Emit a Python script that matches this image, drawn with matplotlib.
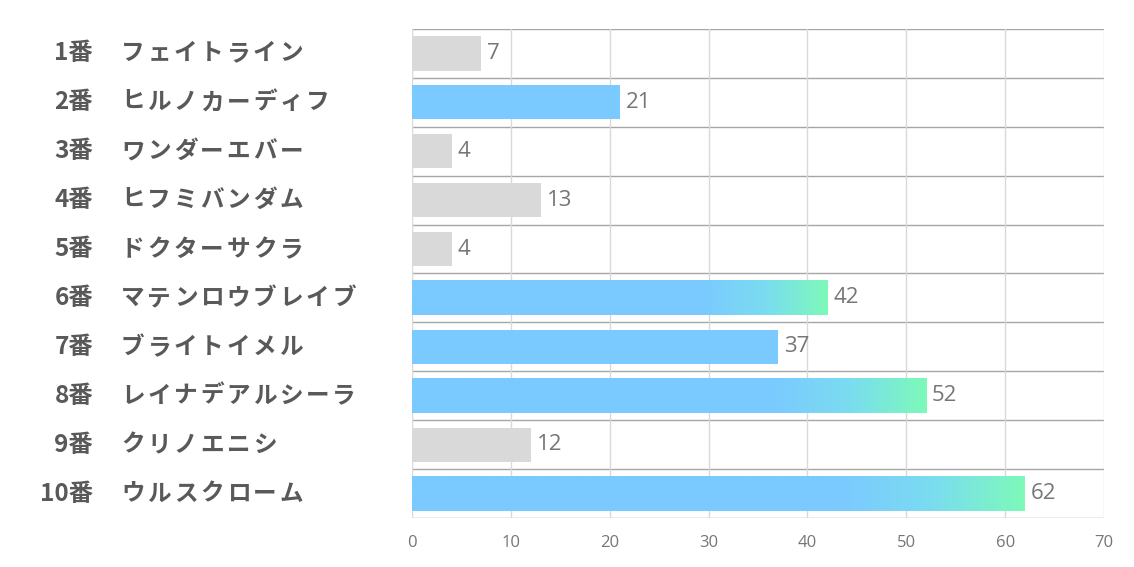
import numpy as np
import matplotlib.pyplot as plt
from matplotlib.colors import LinearSegmentedColormap
from matplotlib.transforms import blended_transform_factory, offset_copy

plt.rcParams['font.family'] = ['Noto Sans CJK JP', 'DejaVu Sans']

# data
numbers = ["1番", "2番", "3番", "4番", "5番", "6番", "7番", "8番", "9番", "10番"]
names = ["フェイトライン", "ヒルノカーディフ", "ワンダーエバー", "ヒフミバンダム", "ドクターサクラ",
         "マテンロウブレイブ", "ブライトイメル", "レイナデアルシーラ", "クリノエニシ", "ウルスクローム"]
values = [7, 21, 4, 13, 4, 42, 37, 52, 12, 62]
styles = ["gray", "blue", "gray", "gray", "gray", "grad", "blue", "grad", "gray", "grad"]
xticks = [0, 10, 20, 30, 40, 50, 60, 70]

gray = "#D9D9D9"
blue = "#7ACAFF"
green = "#7DF9BA"
cmap = LinearSegmentedColormap.from_list(
    "bg", [(0, blue), (0.7, blue), (0.85, "#7ADCF0"), (1, green)])

fig = plt.figure(figsize=(11.34, 5.67), dpi=100)
ax = fig.add_axes([412 / 1134, 1 - 518 / 567, (1104 - 412) / 1134, (518 - 29) / 567])

bar_h = 0.7
ypos = np.arange(len(values))
grad = np.linspace(0, 1, 512).reshape(1, -1)
for y, v, s in zip(ypos, values, styles):
    if s == "grad":
        ax.imshow(grad, cmap=cmap, aspect="auto", zorder=2, interpolation="bilinear",
                  extent=[0, v, y + bar_h / 2, y - bar_h / 2])
    else:
        ax.barh(y, v, height=bar_h, color=gray if s == "gray" else blue, zorder=2)
    ax.text(v + 0.6, y, str(v), va="center", ha="left", fontsize=16,
            color="#767676", family=["Open Sans", "DejaVu Sans"], zorder=3)

ax.set_xlim(0, 70)
ax.set_ylim(len(values) - 0.5, -0.5)

# grid lines
for b in np.arange(-0.5, len(values), 1.0):
    ax.axhline(b, color="#A6A6A6", lw=1, zorder=1)
for t in xticks:
    ax.axvline(t, color="#D9D9D9", lw=1, zorder=1)

for sp in ax.spines.values():
    sp.set_visible(False)

ax.set_xticks(xticks)
ax.set_xticklabels([str(t) for t in xticks], color="#767676", fontsize=12,
                   family=["Open Sans", "DejaVu Sans"])
ax.tick_params(axis="x", length=0, pad=12)
ax.set_yticks([])

# left labels: number right-aligned, name spaced out like the original font
trans = blended_transform_factory(fig.transFigure, ax.transData)
advance = 26.4 * 72 / 100  # points per character
for y, n, nm in zip(ypos, numbers, names):
    ax.text(93 / 1134, y, n, transform=trans, ha="right", va="center",
            fontsize=17.5, fontweight="bold", color="#595959")
    for i, ch in enumerate(nm):
        tr = offset_copy(trans, fig=fig, x=i * advance, y=0, units="points")
        ax.text(121 / 1134, y, ch, transform=tr, ha="left", va="center",
                fontsize=17, fontweight="bold", color="#595959")

fig.savefig("out.png", dpi=100)
